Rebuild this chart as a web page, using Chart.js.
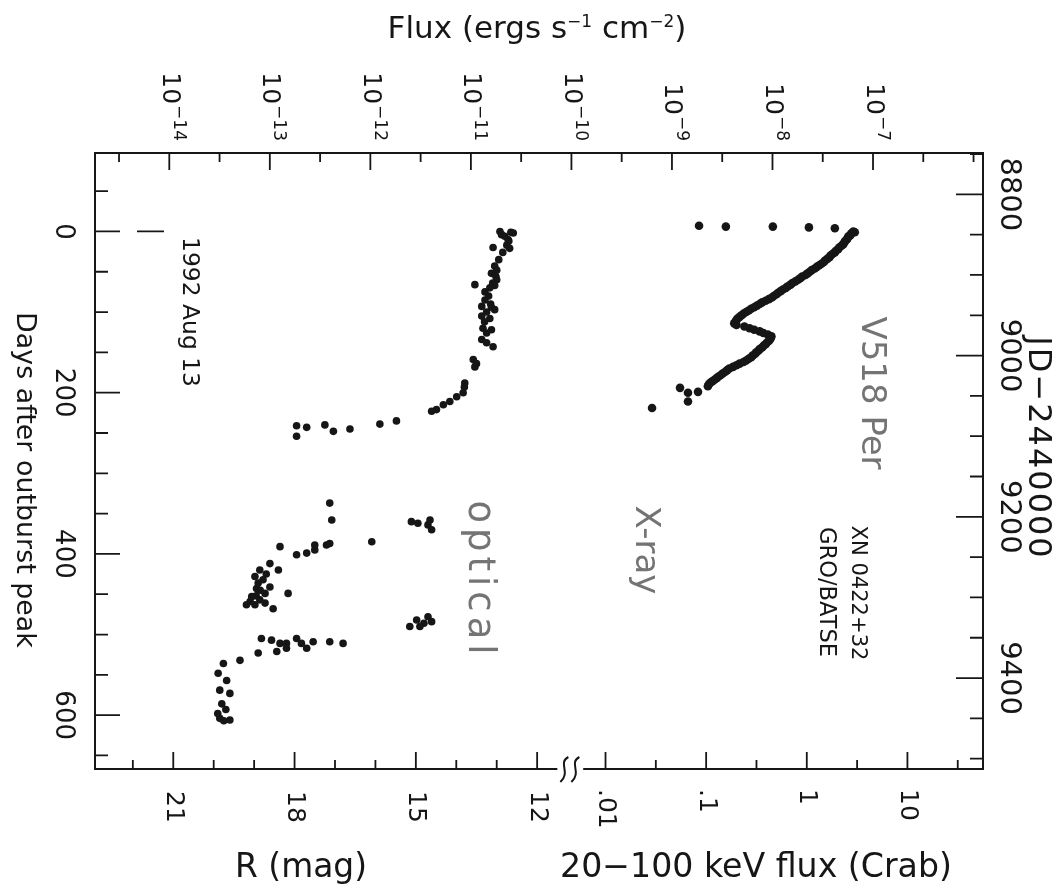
<!DOCTYPE html>
<html>
<head>
<meta charset="utf-8">
<script src="https://cdn.jsdelivr.net/npm/chart.js@4.4.0/dist/chart.umd.min.js"></script>
<style>
  html, body { margin: 0; padding: 0; background: #fff; }
</style>
</head>
<body>
<canvas id="lightCurve" width="1057" height="889"></canvas>
<script>
// GRO/BATSE 20-100 keV light curve (days after peak, flux in Crab)
const xrayDays = [-7, -6, -6, -5, -4,
  0, 1, 2, 3, 5, 6, 8, 10, 12, 14, 16, 18, 20, 22, 24, 26, 28, 30, 32, 34, 36, 38, 40,
  42, 44, 46, 48, 50, 52, 54, 56, 58, 60, 62, 64, 66, 68, 70, 72, 74, 76, 78, 80, 82,
  84, 86, 88, 90, 92, 94, 96, 98, 100, 102, 104, 106, 108, 110, 112, 114, 116, 118,
  120, 122, 124, 126, 128, 130, 132, 134, 136, 138,
  140, 142, 144, 146, 148, 150, 152, 154, 156, 158, 160, 162, 164, 166, 168, 170,
  172, 174, 176, 178, 180, 182, 184, 186, 188, 190, 192,
  194, 199, 200, 211, 219];
const xrayCrab = [0.085, 0.157, 0.46, 1.05, 1.9,
  2.9, 3.0, 2.8, 2.75, 2.7, 2.6, 2.55, 2.5, 2.4, 2.35, 2.3, 2.2, 2.1, 2.05, 1.95, 1.9, 1.8,
  1.72, 1.68, 1.6, 1.52, 1.48, 1.4, 1.33, 1.26, 1.2, 1.12, 1.07, 1.02, 0.97, 0.9, 0.86,
  0.82, 0.77, 0.72, 0.69, 0.65, 0.62, 0.58, 0.55, 0.52, 0.5, 0.47, 0.45, 0.42, 0.39,
  0.36, 0.34, 0.32, 0.3, 0.28, 0.265, 0.25, 0.235, 0.225, 0.215, 0.205, 0.2, 0.195,
  0.19, 0.2, 0.24,
  0.27, 0.3, 0.34, 0.37, 0.41, 0.445, 0.44, 0.43, 0.42, 0.4,
  0.39, 0.37, 0.36, 0.34, 0.33, 0.315, 0.305, 0.29, 0.28, 0.265, 0.25, 0.235, 0.215,
  0.2, 0.185, 0.17, 0.162, 0.155, 0.147, 0.14, 0.133, 0.127, 0.121, 0.115, 0.109,
  0.106, 0.104,
  0.055, 0.083, 0.066, 0.066, 0.029];

// optical R band (days after peak, magnitude)
const optDays = [0, 1, 2, 4, 6, 10, 12, 17, 20, 21, 26, 35, 43, 48, 52, 56, 60, 64, 66, 67,
  70, 75, 80, 85, 90, 93, 94, 97, 100, 105, 108, 112, 120, 122, 126, 134, 138, 143,
  159, 164, 168, 188, 193, 200, 205, 211, 215, 221, 223,
  235, 239, 240, 241, 243, 245, 248, 254,
  337, 358, 358, 360, 362, 364, 370, 385, 387, 389, 389, 395, 399, 401, 391,
  412, 420, 420, 425, 428, 432, 436, 441, 443, 445, 449, 449, 452, 453, 457, 459,
  461, 463, 463, 468,
  478, 482, 484, 486, 490, 490,
  505, 507, 511, 511, 505, 511, 517, 509, 509, 511, 523, 521, 517, 532,
  536, 548, 557, 569, 573, 586, 593, 598, 604, 606, 607];
const optMag = [12.92, 12.65, 12.59, 12.88, 12.8, 12.72, 12.7, 12.75, 13.09, 12.68, 12.85,
  12.95, 13.05, 13.0, 13.13, 13.02, 13.0, 13.1, 13.54, 13.05,
  13.17, 13.29, 13.2, 13.29, 13.15, 13.37, 13.13, 13.05, 13.25, 13.37, 13.17, 13.3,
  13.34, 13.13, 13.25, 13.37, 13.25, 13.09,
  13.58, 13.5, 13.54, 13.79, 13.8, 13.83, 13.99, 14.16, 14.32, 14.49, 14.61,
  15.48, 15.89, 17.25, 17.95, 17.7, 16.63, 17.04, 17.95,
  17.13, 17.08, 14.65, 15.11, 14.95, 14.7, 14.61, 16.09, 17.13, 17.21, 17.5, 17.5,
  17.7, 17.95, 18.36,
  18.61, 18.4, 18.86, 18.7, 18.98, 18.78, 18.9, 18.61, 18.94, 18.85, 18.73, 18.16,
  18.95, 19.06, 18.86, 19.1, 18.73, 19.19, 18.98, 18.53,
  14.7, 14.98, 14.61, 14.8, 15.15, 14.9,
  18.82, 18.57, 18.36, 18.2, 17.95, 17.83, 17.7, 17.54, 17.13, 16.8, 18.9, 18.44,
  18.2, 19.35,
  19.76, 19.89, 19.68, 19.85, 19.6, 19.8, 19.7, 19.9, 19.85, 19.6, 19.75];

// tick labels
const fluxExps = [-14, -13, -12, -11, -10, -9, -8, -7];
const magTicks = [21, 18, 15, 12];
const crabTicks = [0.01, 0.1, 1, 10];
const crabLabels = ['.01', '.1', '1', '10'];
const dayTicks = [0, 200, 400, 600];
const jdTicks = [8800, 9000, 9200, 9400];
const JD_OFFSET = 8846; // JD-2440000 of day 0 (1992 Aug 13)

const INK = '#161616';
const GRAY = '#747474';
const FONT = '"DejaVu Sans", sans-serif';

function rotText(ctx, text, x, y, size, align, color, spacing) {
    ctx.save();
    ctx.translate(x, y);
    ctx.rotate(Math.PI / 2);
    ctx.font = size + 'px ' + FONT;
    ctx.fillStyle = color || INK;
    ctx.textAlign = align || 'center';
    ctx.textBaseline = 'middle';
    if (spacing) ctx.letterSpacing = spacing + 'px';
    ctx.fillText(text, 0, 0);
    ctx.restore();
}

// rotated label scaled to a given length on screen
function rotFit(ctx, text, cx, cy, len, color) {
    ctx.font = '100px ' + FONT;
    const size = 100 * len / ctx.measureText(text).width;
    rotText(ctx, text, cx, cy, size, 'center', color);
}

// "10" with raised exponent, rotated, text ends at yEnd
function rotPower(ctx, exp, x, yEnd) {
    ctx.save();
    ctx.translate(x, yEnd);
    ctx.rotate(Math.PI / 2);
    ctx.fillStyle = INK;
    ctx.textBaseline = 'middle';
    ctx.textAlign = 'left';
    const es = '\u2212' + Math.abs(exp);
    ctx.font = '25px ' + FONT;
    const wb = ctx.measureText('10').width;
    ctx.font = '17px ' + FONT;
    const we = ctx.measureText(es).width;
    const x0 = -(wb + we + 1);
    ctx.font = '25px ' + FONT;
    ctx.fillText('10', x0, 0);
    ctx.font = '17px ' + FONT;
    ctx.fillText(es, x0 + wb + 1, -9);
    ctx.restore();
}

// upright line with superscript parts, centred on cx
function supLine(ctx, parts, cx, baseline, size, supSize, raise) {
    let total = 0;
    parts.forEach(p => {
        ctx.font = (p[1] ? supSize : size) + 'px ' + FONT;
        total += ctx.measureText(p[0]).width;
    });
    let x = cx - total / 2;
    ctx.fillStyle = INK;
    ctx.textAlign = 'left';
    ctx.textBaseline = 'alphabetic';
    parts.forEach(p => {
        ctx.font = (p[1] ? supSize : size) + 'px ' + FONT;
        ctx.fillText(p[0], x, baseline - (p[1] ? raise : 0));
        x += ctx.measureText(p[0]).width;
    });
}

function fitLine(ctx, text, cx, baseline, len) {
    ctx.font = '100px ' + FONT;
    const size = 100 * len / ctx.measureText(text).width;
    ctx.font = size + 'px ' + FONT;
    ctx.fillStyle = INK;
    ctx.textAlign = 'center';
    ctx.textBaseline = 'alphabetic';
    ctx.fillText(text, cx, baseline);
}

const framePlugin = {
    id: 'frame',
    afterDraw(chart) {
        const ctx = chart.ctx;
        const a = chart.chartArea;
        const s = chart.scales;
        ctx.save();
        ctx.strokeStyle = INK;
        ctx.lineCap = 'butt';

        // frame with broken bottom axis
        const breakL = s.mag.getPixelForValue(11.5);
        const breakR = s.crab.getPixelForValue(0.006);
        ctx.lineWidth = 2;
        ctx.beginPath();
        ctx.moveTo(breakL, a.bottom);
        ctx.lineTo(a.left, a.bottom);
        ctx.lineTo(a.left, a.top);
        ctx.lineTo(a.right, a.top);
        ctx.lineTo(a.right, a.bottom);
        ctx.lineTo(breakR, a.bottom);
        ctx.stroke();

        // break symbol
        [breakL + 7, breakL + 18].forEach(x => {
            const y0 = a.bottom - 12;
            ctx.beginPath();
            ctx.moveTo(x + 4, y0);
            ctx.bezierCurveTo(x - 7, y0 + 6, x + 7, y0 + 15, x - 4, y0 + 25);
            ctx.stroke();
        });

        // inward ticks
        ctx.lineWidth = 1.8;
        ctx.beginPath();
        for (let e = -15; e <= -6; e += 0.5) {
            const x = s.flux.getPixelForValue(Math.pow(10, e));
            if (x <= a.left + 2 || x >= a.right - 2) continue;
            const len = (Number.isInteger(e) && e <= -7) ? 17 : 9;
            ctx.moveTo(x, a.top); ctx.lineTo(x, a.top + len);
        }
        for (let m = 22; m >= 12; m--) {
            const x = s.mag.getPixelForValue(m);
            if (x <= a.left + 2) continue;
            const len = magTicks.includes(m) ? 17 : 9;
            ctx.moveTo(x, a.bottom); ctx.lineTo(x, a.bottom - len);
        }
        for (let e = -2; e <= 1.5; e += 0.5) {
            const x = s.crab.getPixelForValue(Math.pow(10, e));
            const len = Number.isInteger(e) ? 17 : 9;
            ctx.moveTo(x, a.bottom); ctx.lineTo(x, a.bottom - len);
        }
        for (let d = -50; d <= 650; d += 50) {
            const y = s.days.getPixelForValue(d);
            const len = (d % 200 === 0) ? 25 : 13;
            ctx.moveTo(a.left, y); ctx.lineTo(a.left + len, y);
        }
        for (let j = 8750; j <= 9500; j += 50) {
            const y = s.jd.getPixelForValue(j);
            if (y < a.top || y > a.bottom - 2) continue;
            const len = (j % 200 === 0) ? 27 : 13;
            ctx.moveTo(a.right, y); ctx.lineTo(a.right - len, y);
        }
        // outburst peak marker
        const y0 = s.days.getPixelForValue(0);
        ctx.moveTo(137, y0); ctx.lineTo(164, y0);
        ctx.stroke();

        // tick labels
        fluxExps.forEach(e => rotPower(ctx, e, s.flux.getPixelForValue(Math.pow(10, e)), 141));
        magTicks.forEach(m => rotText(ctx, String(m), s.mag.getPixelForValue(m), 791, 25, 'left'));
        crabTicks.forEach((c, i) => rotText(ctx, crabLabels[i], s.crab.getPixelForValue(c), 789, 25, 'left'));
        dayTicks.forEach(d => rotText(ctx, String(d), 63, s.days.getPixelForValue(d), 26, 'center'));
        jdTicks.forEach(j => rotText(ctx, String(j), 1009, s.jd.getPixelForValue(j), 29, 'center'));

        // axis titles
        supLine(ctx, [['Flux (ergs s', 0], ['\u22121', 1], [' cm', 0], ['\u22122', 1], [')', 0]],
            537, 38, 31, 17, 11);
        fitLine(ctx, 'R (mag)', 301, 877, 132);
        fitLine(ctx, '20\u2212100 keV flux (Crab)', 756, 877, 392);
        rotFit(ctx, 'Days after outburst peak', 24, 480, 336);
        rotText(ctx, 'JD\u22122440000', 1037, 448, 32, 'center', INK, 2);

        // annotations
        rotText(ctx, 'V518 Per', 871, 393, 34, 'center', GRAY);
        rotText(ctx, 'X-ray', 645, 550, 34, 'center', GRAY);
        rotText(ctx, 'optical', 479, 580, 37, 'center', GRAY, 5);
        rotFit(ctx, 'XN 0422+32', 857, 593, 135);
        rotFit(ctx, 'GRO/BATSE', 826, 592, 130);
        rotFit(ctx, '1992 Aug 13', 189, 312, 150);
        ctx.restore();
    }
};

function dots(radius) {
    return {
        pointRadius: radius,
        pointBorderWidth: 0,
        pointBackgroundColor: INK,
        pointBorderColor: INK,
        showLine: false
    };
}

new Chart(document.getElementById('lightCurve'), {
    type: 'scatter',
    data: {
        datasets: [
            Object.assign({
                label: 'X-ray',
                data: xrayDays.map((d, i) => ({ x: xrayCrab[i], y: d })),
                xAxisID: 'crab',
                yAxisID: 'days'
            }, dots(4.3)),
            Object.assign({
                label: 'optical',
                data: optDays.map((d, i) => ({ x: optMag[i], y: d })),
                xAxisID: 'mag',
                yAxisID: 'days'
            }, dots(3.8))
        ]
    },
    options: {
        responsive: false,
        animation: false,
        layout: { padding: { left: 95, top: 153, right: 74, bottom: 120 } },
        plugins: {
            legend: { display: false },
            tooltip: { enabled: false }
        },
        scales: {
            flux: { type: 'logarithmic', axis: 'x', position: 'top', display: false,
                min: Math.pow(10, -14.739), max: Math.pow(10, -5.906) },
            mag: { type: 'linear', axis: 'x', position: 'bottom', display: false,
                reverse: true, min: 0.972, max: 22.936 },
            crab: { type: 'logarithmic', axis: 'x', position: 'bottom', display: false,
                min: Math.pow(10, -7.073), max: Math.pow(10, 1.751) },
            days: { type: 'linear', axis: 'y', position: 'left', display: false,
                reverse: true, min: -97.3, max: 666.8 },
            jd: { type: 'linear', axis: 'y', position: 'right', display: false,
                reverse: true, min: -97.3 + JD_OFFSET, max: 666.8 + JD_OFFSET }
        }
    },
    plugins: [framePlugin]
});
</script>
</body>
</html>
